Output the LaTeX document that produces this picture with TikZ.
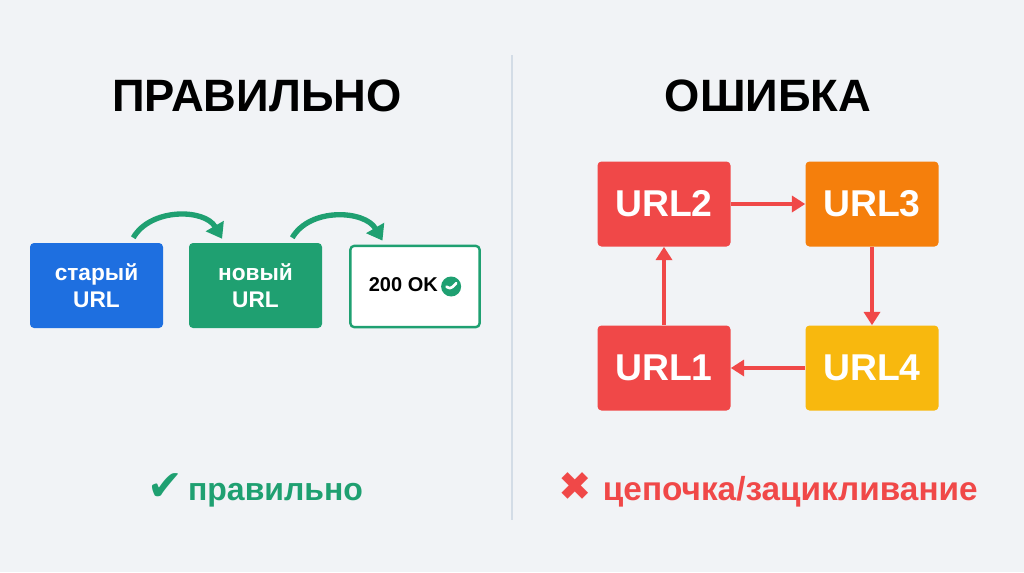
\documentclass[tikz,border=0pt]{standalone}
\usepackage{fontspec}
\setmainfont{Liberation Sans}
\newfontfamily\djv{DejaVu Sans}
\usetikzlibrary{arrows.meta}
\definecolor{bg}{HTML}{F1F3F6}
\definecolor{cblue}{HTML}{1E6FE0}
\definecolor{cgreen}{HTML}{1FA071}
\definecolor{cred}{HTML}{F04848}
\definecolor{corange}{HTML}{F57F0C}
\definecolor{cyellow}{HTML}{F8B80E}
\definecolor{cline}{HTML}{D3DCE6}
\begin{document}
\begin{tikzpicture}[x=0.75pt,y=-0.75pt,
 box/.style={rounded corners=3pt,minimum width=99.75pt,minimum height=63.75pt,inner sep=0pt,align=center,text=white},
 lbox/.style={box,font=\bfseries\fontsize{17}{20}\selectfont},
 rbox/.style={box,font=\bfseries\fontsize{28}{30}\selectfont},
 garr/.style={cgreen,line width=4pt,-{Triangle[length=11pt,width=15pt]}},
 rarr/.style={cred,line width=3pt,-{Triangle[length=10pt,width=12pt]}},
 title/.style={font=\bfseries\fontsize{34}{40}\selectfont,text=black}]
\fill[bg] (0,0) rectangle (1024,572);
\useasboundingbox (0,0) rectangle (1024,572);
\draw[cline,line width=1.5pt] (512,55) -- (512,520) coordinate (dv);
\node[title] (t1) at (257,96) {ПРАВИЛЬНО};
\node[title] (t2) at (768,96) {ОШИБКА};
\node[lbox,fill=cblue] (old) at (96.5,285.5) {старый\\URL};
\node[lbox,fill=cgreen] (new) at (255.5,285.5) {новый\\URL};
\node[box,fill=white,draw=cgreen,line width=1.8pt,minimum width=97pt,minimum height=61pt,text=black,font=\bfseries\fontsize{15}{18}\selectfont] (ok) at (415,286.5) {200 OK\,\tikz[baseline=-4pt]{\fill[cgreen] (0,0) circle (7.5pt); \draw[white,line width=2pt,line cap=round,line join=round] (-3.5pt,0pt) -- (-1pt,-2.5pt) -- (3.8pt,2.5pt);}};
\draw[garr] (old.north east) ++(-30,-5) coordinate (a1) to[out=60,in=120] ([xshift=25pt,yshift=3pt]new.north west);
\draw[garr] (new.north east) ++(-30,-5) coordinate (a2) to[out=60,in=120] ([xshift=25pt,yshift=3pt]ok.north west);
\node[rbox,fill=cred] (u2) at (664,204) {URL2};
\node[rbox,fill=corange] (u3) at (872,204) {URL3};
\node[rbox,fill=cyellow] (u4) at (872,368) {URL4};
\node[rbox,fill=cred] (u1) at (664,368) {URL1};
\draw[rarr] (u2) -- (u3);
\draw[rarr] (u3) -- (u4);
\draw[rarr] (u4) -- (u1);
\draw[rarr] (u1) -- (u2);
\node[text=cgreen,font=\bfseries\fontsize{24}{26}\selectfont] (b1) at (255,490) {{\djv\fontsize{32}{30}\selectfont ✔}\,правильно};
\node[text=cred,font=\bfseries\fontsize{25}{26}\selectfont] (b2) at (768,490) {{\djv\fontsize{30}{30}\selectfont ✖}\,\,цепочка/зацикливание};
\end{tikzpicture}
\end{document}
